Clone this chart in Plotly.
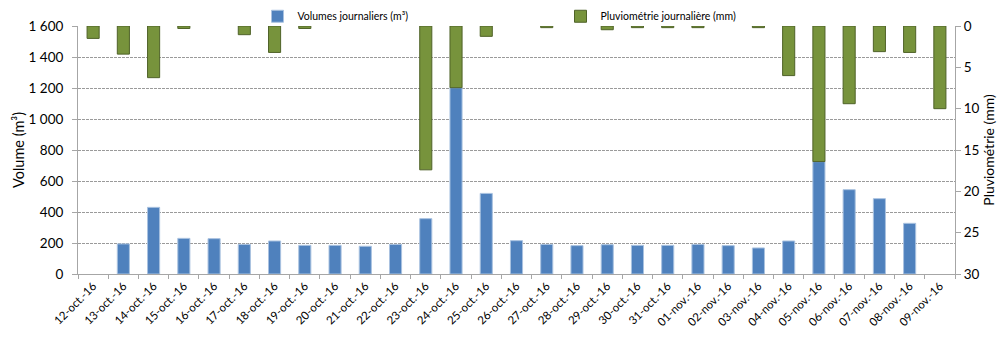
import plotly.graph_objects as go

dates = ["12-oct.-16", "13-oct.-16", "14-oct.-16", "15-oct.-16", "16-oct.-16", "17-oct.-16",
         "18-oct.-16", "19-oct.-16", "20-oct.-16", "21-oct.-16", "22-oct.-16", "23-oct.-16",
         "24-oct.-16", "25-oct.-16", "26-oct.-16", "27-oct.-16", "28-oct.-16", "29-oct.-16",
         "30-oct.-16", "31-oct.-16", "01-nov.-16", "02-nov.-16", "03-nov.-16", "04-nov.-16",
         "05-nov.-16", "06-nov.-16", "07-nov.-16", "08-nov.-16", "09-nov.-16"]

volumes = [None, 194, 430, 230, 228, 191, 213, 185, 185, 179, 191, 357,
           1202, 520, 215, 191, 183, 189, 185, 185, 191, 183, 168, 213,
           725, 544, 486, 327, None]

# None = no rainfall bar drawn that day
pluie = [1.5, 3.4, 6.25, 0.3, None, 1.05, 3.2, 0.3, None, None, None, 17.4,
         7.46, 1.25, None, 0.2, None, 0.45, 0.2, 0.2, 0.2, None, 0.2, 6.0,
         16.4, 9.4, 3.1, 3.2, 10.0]

FONT = "Lato"

fig = go.Figure()
fig.add_trace(go.Bar(
    x=dates, y=volumes, name="Volumes journaliers (m³)",
    marker=dict(color="#4F81BD", line=dict(color="#A9C2E0", width=1)),
    width=0.4, yaxis="y",
))
fig.add_trace(go.Bar(
    x=dates, y=pluie, name="Pluviométrie journalière (mm)",
    marker=dict(color="#77933C", line=dict(color="#4F6228", width=1)),
    width=0.4, yaxis="y2",
))

fig.update_layout(
    width=1002, height=346,
    margin=dict(l=78, r=47, t=26, b=72, autoexpand=False),
    paper_bgcolor="white", plot_bgcolor="white",
    barmode="overlay",
    separators=", ",
    font=dict(family=FONT, size=12, color="#000000"),
    showlegend=True,
    legend=dict(
        orientation="h", xref="container", yref="container",
        x=0.257, xanchor="left", y=0.953, yanchor="middle",
        font=dict(size=10.5, color="#000000"), entrywidth=258,
        itemwidth=30, bgcolor="rgba(0,0,0,0)", traceorder="normal",
    ),
    xaxis=dict(
        type="category", range=[-0.5, 28.5], automargin=False,
        tickangle=-45, tickfont=dict(size=11.5),
        showline=True, linecolor="#A6A6A6", linewidth=1,
        ticks="outside", ticklen=4, tickcolor="#A6A6A6", tickson="boundaries",
        showgrid=False, zeroline=False,
    ),
    yaxis=dict(
        range=[0, 1600], dtick=200, tickformat=",d", automargin=False,
        tickfont=dict(size=13.5), ticklabelstandoff=6,
        title=dict(text="Volume (m³)", font=dict(size=14.5), standoff=0),
        showline=True, linecolor="#A6A6A6", linewidth=1,
        ticks="outside", ticklen=5, tickcolor="#A6A6A6",
        showgrid=True, gridcolor="#9A9A9A", griddash="3px,1px", gridwidth=1,
        zeroline=False,
    ),
    yaxis2=dict(
        overlaying="y", side="right", automargin=False,
        range=[30, 0], dtick=5, tickfont=dict(size=13.5),
        title=dict(text="Pluviométrie (mm)", font=dict(size=14), standoff=4),
        showline=True, linecolor="#A6A6A6", linewidth=1,
        ticks="outside", ticklen=5, tickcolor="#A6A6A6",
        showgrid=False, zeroline=False,
    ),
)

fig.write_html("out.html", config={"displayModeBar": False},
               post_script="document.body.style.margin='0';")
